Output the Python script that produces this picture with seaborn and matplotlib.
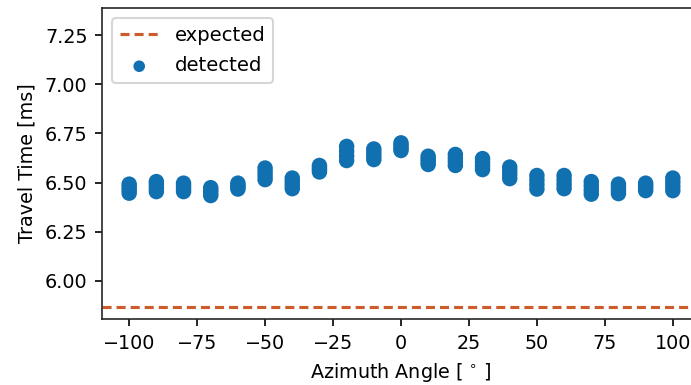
import numpy as np
import pandas as pd
import matplotlib
matplotlib.use("Agg")
import matplotlib.pyplot as plt
import seaborn as sns

angles = [-100, -90, -80, -70, -60, -50, -40, -30, -20, -10, 0,
          10, 20, 30, 40, 50, 60, 70, 80, 90, 100]
detected = [
    [6.446, 6.462, 6.478, 6.492],
    [6.454, 6.472, 6.490, 6.505],
    [6.454, 6.468, 6.483, 6.497],
    [6.434, 6.448, 6.462, 6.474],
    [6.467, 6.477, 6.487, 6.497],
    [6.515, 6.535, 6.555, 6.574],
    [6.469, 6.487, 6.505, 6.523],
    [6.554, 6.565, 6.576, 6.587],
    [6.612, 6.636, 6.660, 6.684],
    [6.617, 6.635, 6.653, 6.671],
    [6.663, 6.676, 6.689, 6.702],
    [6.592, 6.606, 6.620, 6.634],
    [6.587, 6.606, 6.624, 6.643],
    [6.566, 6.585, 6.603, 6.622],
    [6.520, 6.540, 6.559, 6.579],
    [6.467, 6.490, 6.513, 6.536],
    [6.469, 6.491, 6.514, 6.536],
    [6.441, 6.462, 6.484, 6.505],
    [6.444, 6.460, 6.476, 6.492],
    [6.459, 6.472, 6.484, 6.497],
    [6.459, 6.480, 6.502, 6.523],
]
expected = 5.866

rows = [(a, v) for a, vals in zip(angles, detected) for v in vals]
df = pd.DataFrame(rows, columns=["angle", "time"])

sns.set_style("ticks")
plt.rcParams.update({
    "font.size": 9.2,
    "axes.labelsize": 9.2,
    "xtick.labelsize": 9.2,
    "ytick.labelsize": 9.2,
    "legend.fontsize": 9.4,
    "text.color": "black",
    "axes.labelcolor": "black",
    "xtick.color": "black",
    "ytick.color": "black",
})
blue = "#1170b0"
orange = "#cc5c2c"

fig = plt.figure(figsize=(691 / 150, 385 / 150), dpi=150)
ax = fig.add_axes([102 / 691, 66 / 385, 598 / 691, 311 / 385])

ax.axhline(expected, color=orange, linestyle=(0, (2.9, 1.6)), linewidth=1.5,
           label="expected")
sns.scatterplot(data=df, x="angle", y="time", color=blue, s=55,
                edgecolor="none", label="detected", ax=ax)

ax.set_xlim(-110, 110)
ax.set_ylim(5.806, 7.388)
ax.set_xticks([-100, -75, -50, -25, 0, 25, 50, 75, 100])
ax.set_yticks([6.00, 6.25, 6.50, 6.75, 7.00, 7.25])
ax.set_yticklabels(["6.00", "6.25", "6.50", "6.75", "7.00", "7.25"])
ax.set_xlabel(r"Azimuth Angle [$\,^\circ\,$]")
ax.set_ylabel("Travel Time [ms]")
for s in ax.spines.values():
    s.set_visible(True)
    s.set_color("#262626")
ax.legend(loc="upper left", markerscale=0.75, labelspacing=0.6)

fig.savefig("out.png", dpi=150)
